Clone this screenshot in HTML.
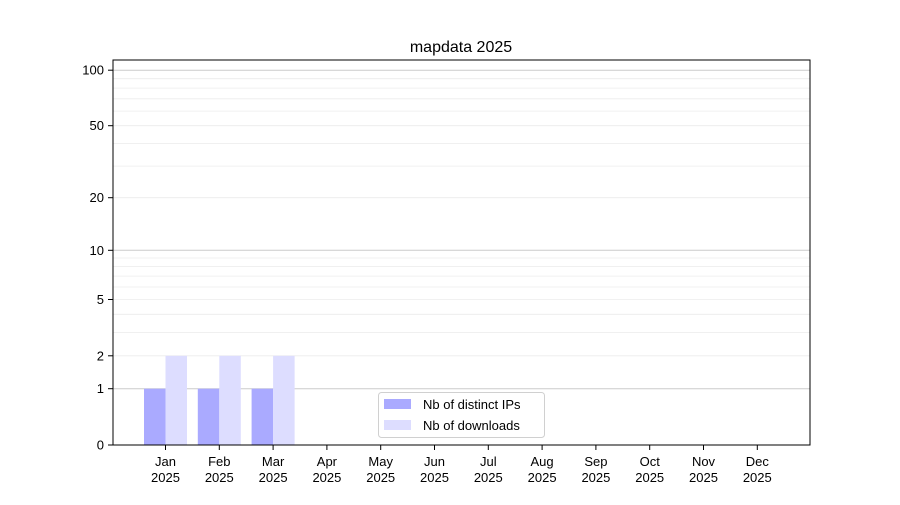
<!DOCTYPE html>
<html><head><style>body{margin:0;background:#fff}</style></head><body>
<svg width="900" height="500" xmlns="http://www.w3.org/2000/svg" font-family="Liberation Sans, DejaVu Sans, sans-serif" font-size="13">
<rect width="900" height="500" fill="#fff"/>
<g stroke="#ececec" stroke-width="0.8">
<line x1="113" x2="810" y1="355.8" y2="355.8"/>
<line x1="113" x2="810" y1="332.4" y2="332.4"/>
<line x1="113" x2="810" y1="314.3" y2="314.3"/>
<line x1="113" x2="810" y1="299.5" y2="299.5"/>
<line x1="113" x2="810" y1="287.0" y2="287.0"/>
<line x1="113" x2="810" y1="276.1" y2="276.1"/>
<line x1="113" x2="810" y1="266.6" y2="266.6"/>
<line x1="113" x2="810" y1="258.0" y2="258.0"/>
<line x1="113" x2="810" y1="197.7" y2="197.7"/>
<line x1="113" x2="810" y1="166.1" y2="166.1"/>
<line x1="113" x2="810" y1="143.4" y2="143.4"/>
<line x1="113" x2="810" y1="125.7" y2="125.7"/>
<line x1="113" x2="810" y1="111.1" y2="111.1"/>
<line x1="113" x2="810" y1="98.8" y2="98.8"/>
<line x1="113" x2="810" y1="88.1" y2="88.1"/>
<line x1="113" x2="810" y1="78.7" y2="78.7"/>
</g>
<g stroke="#cccccc" stroke-width="1">
<line x1="113" x2="810" y1="388.7" y2="388.7"/>
<line x1="113" x2="810" y1="250.3" y2="250.3"/>
<line x1="113" x2="810" y1="70.2" y2="70.2"/>
</g>
<g fill="#aaaaff">
<rect x="144" y="388.7" width="21.5" height="56.3"/>
<rect x="197.8" y="388.7" width="21.5" height="56.3"/>
<rect x="251.6" y="388.7" width="21.5" height="56.3"/>
</g>
<g fill="#ddddff">
<rect x="165.5" y="355.8" width="21.5" height="89.2"/>
<rect x="219.3" y="355.8" width="21.5" height="89.2"/>
<rect x="273.1" y="355.8" width="21.5" height="89.2"/>
</g>
<g stroke="#000">
<line x1="108" x2="113" y1="445" y2="445"/>
<line x1="108" x2="113" y1="388.7" y2="388.7"/>
<line x1="108" x2="113" y1="355.8" y2="355.8"/>
<line x1="108" x2="113" y1="299.5" y2="299.5"/>
<line x1="108" x2="113" y1="250.3" y2="250.3"/>
<line x1="108" x2="113" y1="197.7" y2="197.7"/>
<line x1="108" x2="113" y1="125.7" y2="125.7"/>
<line x1="108" x2="113" y1="70.2" y2="70.2"/>
</g>
<g text-anchor="end">
<text x="104" y="449.5">0</text>
<text x="104" y="393.2">1</text>
<text x="104" y="360.3">2</text>
<text x="104" y="304">5</text>
<text x="104" y="254.8">10</text>
<text x="104" y="202.2">20</text>
<text x="104" y="130.2">50</text>
<text x="104" y="74.7">100</text>
</g>
<g stroke="#000">
<line x1="165.5" x2="165.5" y1="445" y2="450"/>
<line x1="219.3" x2="219.3" y1="445" y2="450"/>
<line x1="273.1" x2="273.1" y1="445" y2="450"/>
<line x1="326.9" x2="326.9" y1="445" y2="450"/>
<line x1="380.7" x2="380.7" y1="445" y2="450"/>
<line x1="434.5" x2="434.5" y1="445" y2="450"/>
<line x1="488.3" x2="488.3" y1="445" y2="450"/>
<line x1="542.1" x2="542.1" y1="445" y2="450"/>
<line x1="595.9" x2="595.9" y1="445" y2="450"/>
<line x1="649.7" x2="649.7" y1="445" y2="450"/>
<line x1="703.5" x2="703.5" y1="445" y2="450"/>
<line x1="757.3" x2="757.3" y1="445" y2="450"/>
</g>
<g text-anchor="middle">
<text x="165.5" y="466">Jan</text><text x="165.5" y="482">2025</text>
<text x="219.3" y="466">Feb</text><text x="219.3" y="482">2025</text>
<text x="273.1" y="466">Mar</text><text x="273.1" y="482">2025</text>
<text x="326.9" y="466">Apr</text><text x="326.9" y="482">2025</text>
<text x="380.7" y="466">May</text><text x="380.7" y="482">2025</text>
<text x="434.5" y="466">Jun</text><text x="434.5" y="482">2025</text>
<text x="488.3" y="466">Jul</text><text x="488.3" y="482">2025</text>
<text x="542.1" y="466">Aug</text><text x="542.1" y="482">2025</text>
<text x="595.9" y="466">Sep</text><text x="595.9" y="482">2025</text>
<text x="649.7" y="466">Oct</text><text x="649.7" y="482">2025</text>
<text x="703.5" y="466">Nov</text><text x="703.5" y="482">2025</text>
<text x="757.3" y="466">Dec</text><text x="757.3" y="482">2025</text>
</g>
<rect x="113" y="60" width="697" height="385" fill="none" stroke="#000" stroke-width="1"/>
<text x="461" y="52" text-anchor="middle" font-size="16">mapdata 2025</text>
<rect x="378.5" y="392.5" width="166" height="45" rx="3" fill="#fff" fill-opacity="0.8" stroke="#d0d0d0"/>
<rect x="384" y="399" width="27" height="10" fill="#aaaaff"/>
<text x="423" y="409">Nb of distinct IPs</text>
<rect x="384" y="420" width="27" height="10" fill="#ddddff"/>
<text x="423" y="430">Nb of downloads</text>
</svg>
</body></html>
